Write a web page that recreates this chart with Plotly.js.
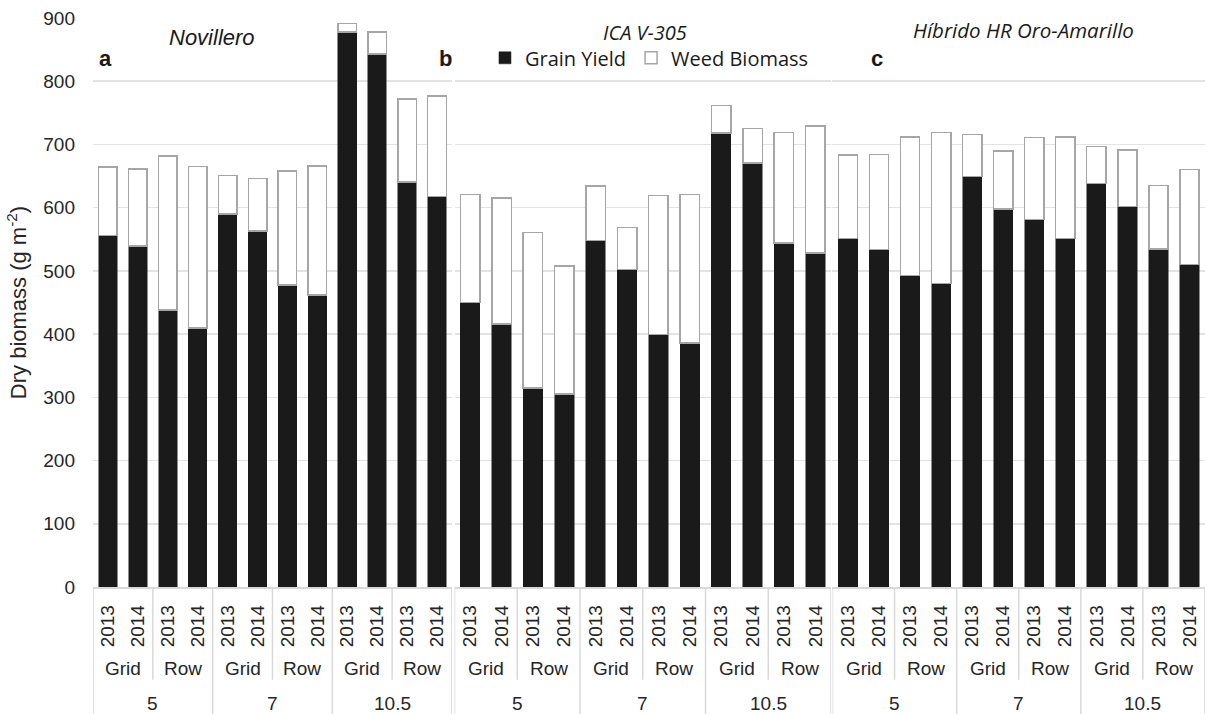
<!DOCTYPE html>
<html><head><meta charset="utf-8">
<script src="https://cdn.plot.ly/plotly-3.0.1.min.js"></script>
<style>html,body{margin:0;padding:0;background:#fff}#chart{width:1207px;height:714px}</style>
</head><body><div id="chart"></div>
<script>
const cultivars = ['Novillero', 'ICA V-305', 'Híbrido HR Oro-Amarillo'];
const panelLetters = ['a', 'b', 'c'];
const densities = ['5', '7', '10.5'];
const arrangements = ['Grid', 'Row'];
const years = ['2013', '2014'];
const seriesNames = ['Grain Yield', 'Weed Biomass'];

const grainNovillero = [556, 539, 438, 410, 590, 563, 478, 462, 878, 843, 641, 618];
const weedNovillero  = [108, 122, 244, 255, 61, 83, 180, 204, 13, 35, 131, 159];
const grainICA       = [450, 416, 315, 305, 548, 502, 399, 386, 718, 671, 544, 528];
const weedICA        = [171, 199, 246, 203, 86, 67, 220, 235, 44, 54, 175, 201];
const grainHibrido   = [551, 534, 493, 480, 649, 598, 581, 551, 638, 602, 535, 510];
const weedHibrido    = [132, 150, 219, 239, 67, 92, 130, 161, 59, 89, 100, 150];

const grainAll = [grainNovillero, grainICA, grainHibrido];
const weedAll = [weedNovillero, weedICA, weedHibrido];

// build category index and tick labels
const idx = [], yearLabels = [];
let k = 0;
densities.forEach(d => arrangements.forEach(a => years.forEach(y => { idx.push(k++); yearLabels.push(y); })));

const domains = [[0, 0.3228], [0.3251, 0.6637], [0.665, 1]];
const axNames = ['x', 'x2', 'x3'];
const grey = '#d9d9d9';
const textCol = '#262626';
const tickFont = {family: 'Liberation Sans, Arial, sans-serif', size: 19, color: textCol};

const traces = [];
for (let p = 0; p < 3; p++) {
  traces.push({
    type: 'bar', x: idx, y: grainAll[p], xaxis: axNames[p], yaxis: 'y',
    name: seriesNames[0], legendgroup: 'g', showlegend: p === 0,
    marker: {color: '#1a1a1a', line: {color: '#1a1a1a', width: 0.5}},
    hoverinfo: 'y'
  });
  traces.push({
    type: 'bar', x: idx, y: weedAll[p], xaxis: axNames[p], yaxis: 'y',
    name: seriesNames[1], legendgroup: 'w', showlegend: p === 0,
    marker: {color: '#ffffff', line: {color: '#a6a6a6', width: 1.5}},
    hoverinfo: 'y'
  });
}

const layout = {
  width: 1207, height: 714,
  margin: {l: 93, r: 2, t: 18, b: 127},
  paper_bgcolor: '#fff', plot_bgcolor: '#fff',
  barmode: 'stack', bargap: 0.38,
  showlegend: true,
  legend: {orientation: 'h', x: 0.3525, xanchor: 'left', y: 0.93, yanchor: 'middle',
           traceorder: 'normal', font: {family: 'Open Sans, sans-serif', size: 20, color: '#1a1a1a'},
           bgcolor: 'rgba(0,0,0,0)'},
  yaxis: {
    range: [0, 900], tickvals: [0,100,200,300,400,500,600,700,800,900],
    showgrid: true, gridcolor: '#e3e3e3', gridwidth: 1.5, zeroline: false,
    ticks: '', ticklabelstandoff: 17, tickfont: tickFont,
    title: {text: 'Dry biomass (g m<sup>-2</sup>)', standoff: 10,
            font: {family: 'Liberation Sans, Arial, sans-serif', size: 22, color: textCol}},
    anchor: 'x'
  },
  shapes: [], annotations: []
};

for (let p = 0; p < 3; p++) {
  const key = p === 0 ? 'xaxis' : 'xaxis' + (p + 1);
  layout[key] = {
    domain: domains[p], range: [-0.5, 11.5], anchor: 'y',
    tickvals: idx, ticktext: yearLabels, tickangle: -90, tickfont: tickFont,
    ticks: '', ticklabelstandoff: 9,
    showgrid: false, zeroline: false,
    showline: true, linecolor: grey, linewidth: 1.5
  };
  const xr = axNames[p];
  // arrangement labels and separators
  for (let g = 0; g < 6; g++) {
    layout.annotations.push({xref: xr, yref: 'paper', x: g * 2 + 0.5, y: -0.1424, yanchor: 'middle',
      text: arrangements[g % 2], showarrow: false, font: tickFont});
  }
  for (let g = 0; g < 3; g++) {
    layout.annotations.push({xref: xr, yref: 'paper', x: g * 4 + 1.5, y: -0.2039, yanchor: 'middle',
      text: densities[g], showarrow: false, font: tickFont});
    layout.shapes.push({type: 'line', xref: xr, yref: 'paper', x0: g * 4 + 1.5, x1: g * 4 + 1.5,
      y0: 0, y1: -0.163, line: {color: grey, width: 1.5}});
  }
  for (let g = 0; g < 4; g++) {
    layout.shapes.push({type: 'line', xref: xr, yref: 'paper', x0: g * 4 - 0.5, x1: g * 4 - 0.5,
      y0: 0, y1: -0.23, line: {color: grey, width: 1.5}});
  }
}

// panel titles and letters
const titleX = [212, 645, 1023], titleY = [38, 32, 30];
const titleFonts = ['Liberation Sans, Arial, sans-serif', 'Open Sans, sans-serif', 'Open Sans, sans-serif'];
const titleSizes = [22, 20, 20.5];
const letterX = [105, 445, 877];
for (let p = 0; p < 3; p++) {
  layout.annotations.push({xref: 'paper', yref: 'paper', x: (titleX[p] - 93) / 1112, y: (587 - titleY[p]) / 569,
    xanchor: 'center', yanchor: 'middle', text: '<i>' + cultivars[p] + '</i>', showarrow: false,
    font: {family: titleFonts[p], size: titleSizes[p], color: '#1a1a1a'}});
  layout.annotations.push({xref: 'paper', yref: 'paper', x: (letterX[p] - 93) / 1112, y: (587 - 58) / 569,
    xanchor: 'center', yanchor: 'middle', text: '<b>' + panelLetters[p] + '</b>', showarrow: false,
    font: {family: 'Liberation Sans, Arial, sans-serif', size: 22, color: '#1a1a1a'}});
}

Plotly.newPlot('chart', traces, layout, {displayModeBar: false, staticPlot: true});
</script></body></html>
